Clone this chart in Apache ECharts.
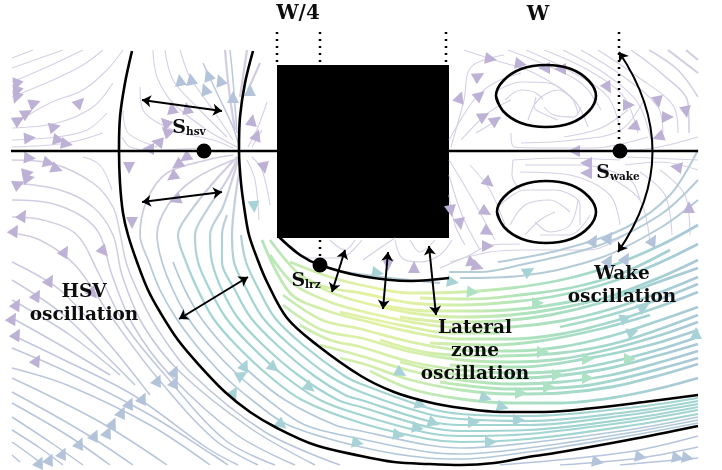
<!DOCTYPE html>
<html><head><meta charset="utf-8">
<style>html,body{margin:0;padding:0;background:#fff}#c{width:722px;height:470px}</style>
<script src="https://cdn.jsdelivr.net/npm/echarts@6/dist/echarts.min.js"></script>
</head><body><div id="c"></div>
<script>
// Thin purple streamlines: upper-left, HSV zone, wake, recirculation
const purpleLines = [
 [[12,58],[33,50]],[[12,68],[43,57],[63,50]],[[12,82],[47,67],[83,50]],[[12,97],[53,80],[83,65],[103,50]],
 [[17,122],[50,103],[83,90],[107,70],[123,50]],[[12,128],[57,123],[93,107],[113,83]],[[12,140],[57,137],[87,130],[107,113]],[[12,147],[67,143],[103,133]],
 [[83,157],[100,165],[112,190]],
 [[140,87],[143,110],[173,130],[213,140],[233,148]],[[153,50],[157,77],[173,103],[207,130],[237,147]],[[165,50],[173,80],[197,107],[227,137]],[[180,50],[190,77],[213,110],[233,140]],
 [[122,137],[130,147],[150,150],[200,148]],[[123,110],[128,133],[157,147]],
 [[267,102],[258,127],[248,147]],[[262,130],[252,147]],
 [[252,157],[262,170],[270,205]],[[247,160],[255,180],[259,220]],
 [[464,50],[494,60],[534,73],[574,100],[588,127]],[[508,50],[541,63],[581,83],[601,110]],[[526,50],[568,70],[608,97],[621,133]],[[544,50],[588,70],[624,97],[638,133]],[[563,50],[604,73],[638,103],[651,140]],[[581,50],[624,77],[658,107],[663,133]],[[598,50],[638,77],[674,107],[678,133]],
 [[511,133],[514,147],[548,148],[594,148],[648,137]],[[521,143],[574,140],[621,130],[644,100]],[[698,137],[654,148],[624,150]],[[564,137],[601,128],[628,110]],
 [[451,147],[464,100],[471,67],[504,55]],[[449,140],[474,100],[494,83],[521,73]],[[461,140],[488,113],[511,100]],[[476,133],[501,118]],
 [[498,90],[521,82],[548,83],[571,97],[578,113]],[[528,120],[538,100],[558,90],[574,100]],[[505,100],[521,90],[534,92],[543,99]],[[558,120],[546,115],[534,107],[536,97]],[[581,107],[574,117],[554,115],[544,107]],
 [[513,160],[512,175],[520,190]],[[513,160],[560,158],[620,160]],[[698,160],[628,157]],[[698,170],[660,162],[625,165]],[[525,165],[580,165],[630,180],[640,200]],
 [[520,172],[570,175],[610,195],[620,225]],[[640,172],[665,195],[672,235]],[[660,170],[685,195],[690,235]],[[605,175],[640,200],[650,245]],
 [[449,160],[470,195],[495,240]],[[449,175],[462,215],[480,250]],[[449,195],[455,225],[465,245]],[[470,165],[490,190],[505,225]],
 [[500,205],[525,190],[555,190],[580,205],[580,225]],[[510,225],[525,205],[550,200],[570,212]],[[525,235],[540,220],[555,212]],[[578,200],[570,225],[550,232],[535,222]],[[590,215],[570,235],[540,235]],
 [[290,245],[310,258],[340,258],[362,240]],[[330,240],[345,250],[355,240]],[[363,260],[380,248],[395,238]],[[395,240],[402,258],[420,262],[440,255],[452,240]],[[410,240],[420,252],[435,240]],
 [[440,268],[470,255],[490,245],[520,244]],[[450,262],[490,252],[525,250],[590,250],[625,235]]
];
// Streamlines outside the HSV boundary, fading from purple to blue-grey downwards
const outerLines = [
 [[12,160],[50,163],[93,183],[113,207],[120,233],[126,262],[137,290],[155,325],[190,372],[265,432],[340,465]],
 [[12,183],[60,190],[93,207],[113,235],[122,275],[143,325],[180,372],[250,428],[315,465]],
 [[12,200],[50,203],[83,217],[100,235],[112,275],[133,325],[170,375],[237,435],[295,465]],
 [[12,217],[43,220],[77,235],[98,272],[125,325],[165,375],[225,440],[275,465]],
 [[12,233],[40,240],[75,265],[110,315],[155,375],[215,440],[258,465]],
 [[12,262],[60,290],[110,345],[150,395]],[[12,280],[60,312],[100,350],[135,385]],[[12,300],[70,335],[120,375]],[[12,318],[60,345],[110,375]],
 [[12,335],[60,358],[133,395],[207,448],[238,465]],[[12,348],[67,372],[150,415],[213,455],[228,465]],[[12,368],[67,385],[150,425],[210,465]],[[12,378],[100,422],[167,465]],
 [[12,392],[83,432],[133,465]],[[12,403],[67,435],[110,465]],[[12,417],[50,442],[83,465]],[[12,430],[40,448],[63,465]],[[12,442],[33,457],[43,465]],[[12,455],[20,462]],
 [[500,465],[628,452],[698,436]],[[560,465],[640,458],[698,447]],[[620,465],[698,458]],
 [[631,50],[661,73],[688,103],[689,133]],[[649,50],[678,70],[698,97]]
];
// Streamlines between the HSV and inner boundaries, blue-grey side
const bandBlueLines = [
 [[233,155],[207,160],[167,173],[147,200],[140,235],[149,262],[160,290],[176,318],[196,345],[223,375],[252,400],[288,425],[361,447],[428,458],[461,459],[528,452],[628,436],[698,423]],
 [[233,160],[193,180],[168,205],[157,235],[162,262],[173,290],[188,318],[209,345],[238,375],[268,400],[305,425],[361,439],[428,452],[461,454],[528,448],[628,433],[698,420]],
 [[173,262],[185,290],[201,318],[223,345],[253,375],[285,400],[335,425],[361,431],[428,445],[461,448],[528,443],[628,430],[698,417]]
];
// Streamlines between the HSV and inner boundaries, teal side
const bandTealLines = [
 [[237,157],[213,183],[190,212],[178,235],[186,262],[198,290],[213,318],[236,345],[268,375],[302,400],[361,423],[428,439],[461,442],[528,439],[628,426],[698,414]],
 [[238,157],[227,180],[207,210],[195,235],[198,262],[210,290],[226,318],[250,345],[283,375],[320,400],[361,415],[428,433],[461,436],[528,434],[628,422],[698,410]],
 [[239,157],[233,177],[223,207],[210,235],[212,262],[222,290],[238,318],[263,345],[298,375],[338,400],[361,407],[428,427],[461,431],[528,430],[628,419],[698,407]],
 [[227,215],[222,235],[222,262],[235,290],[251,318],[277,345],[313,375],[345,395],[361,400],[428,421],[461,425],[528,425],[628,415],[698,404]],
 [[240,167],[235,200],[232,235],[234,262],[247,290],[263,318],[290,345],[328,375],[361,392],[428,414],[461,419],[528,421],[628,412],[698,401]],
 [[241,235],[246,262],[259,290],[275,318],[303,345],[343,375],[361,384],[428,408],[461,414],[528,416],[628,408],[698,398]],
 [[247,50],[240,97]],[[260,63],[248,90]],[[668,50],[698,73]],[[686,50],[698,60]],[[225,50],[229,90],[235,130]]
];
// Top of the HSV zone, blue-grey
const hsvTopLines = [[[203,63],[217,93],[233,127],[238,143]],[[230,50],[233,80],[237,133]]];
// Thick green streamlines of the lateral zone
const greenLines = [
 [[290,262],[330,277],[361,285],[411,293],[461,292],[511,288],[561,280],[611,266],[661,245],[698,225]],
 [[300,275],[325,287],[361,293],[411,303],[461,305],[511,302],[561,295],[611,282],[661,262],[698,244]],
 [[270,240],[300,275],[330,292],[361,302],[411,313],[461,317],[511,315],[561,308],[611,296],[661,277],[698,260]],
 [[270,255],[295,285],[330,302],[361,311],[411,322],[461,328],[511,327],[561,321],[611,309],[661,292],[698,277]],
 [[262,240],[290,293],[325,310],[361,320],[411,332],[461,339],[511,339],[561,334],[611,322],[661,306],[698,292]],
 [[283,295],[322,320],[361,329],[411,342],[461,350],[511,351],[561,347],[611,336],[661,320],[698,307]],
 [[283,305],[322,330],[361,338],[411,352],[461,360],[511,362],[561,359],[611,349],[661,335],[698,322]],
 [[300,325],[330,340],[361,347],[411,362],[461,370],[511,373],[561,371],[611,362],[661,349],[698,337]],
 [[320,345],[361,356],[411,371],[461,380],[511,384],[561,382],[611,375],[661,362],[698,351]],
 [[340,358],[364,364],[411,380],[461,390],[511,394],[561,393],[611,387],[661,375],[698,364]],
 [[370,371],[411,389],[461,399],[511,403],[561,403],[611,398],[661,388],[698,378]],
 [[420,298],[470,299],[520,295],[570,288],[620,274],[670,250]],[[380,305],[430,311],[480,311],[530,308],[580,300]],
 [[400,317],[450,322],[500,321],[550,315],[600,303],[650,285],[698,268]],[[340,312],[400,325],[450,333],[500,333]],
 [[560,327],[610,315],[660,299],[698,284]],[[430,343],[490,345],[540,341],[600,329],[650,315]],
 [[380,340],[430,353],[490,356],[560,353],[620,342],[698,315]],[[450,365],[520,367],[590,358],[650,345],[698,330]],
 [[400,362],[460,375],[520,378],[600,370],[660,355],[698,344]],[[440,382],[510,389],[590,385],[698,358]]
];
const upperRightLines = [
 [[449,272],[480,272],[520,265],[600,245],[660,215],[698,180]],[[498,262],[560,250],[625,228],[670,195],[698,150]],[[460,278],[520,276],[600,258],[660,228],[698,200]],
 [[345,272],[390,278],[440,283]]
];
// Boundaries and annotation geometry
const centreLineLeft = [[11,151],[277,151]];
const centreLineRight = [[449,151],[698,151]];
const hsvBoundary = [[132,51],[125,83],[120,117],[119,150],[120,183],[123,213],[128,235],[137,262],[148,290],[160,312],[178,340],[200,366],[225,392],[250,412],[277,428],[315,445],[361,456],[394,462],[428,464],[461,465],[494,463],[528,457],[561,452],[628,440],[698,426]];
const innerBoundary = [[253,51],[245,83],[240,117],[239,150],[241,183],[245,213],[249,235],[257,258],[267,282],[287,318],[317,345],[361,376],[394,392],[428,402],[461,408],[501,412],[544,412],[594,408],[644,402],[698,395]];
const lateralBoundary = [[278,236],[300,255],[320,265],[361,276],[411,281],[449,278]];
const upperVortex = [[496,96],[503,111],[521,123],[546,127],[571,123],[589,111],[596,96],[589,81],[571,69],[546,65],[521,69],[503,81],[496,96],[503,111]];
const lowerVortex = [[497,212],[504,227],[522,239],[546,243],[571,239],[589,227],[596,212],[589,197],[571,185],[546,181],[522,185],[504,197],[497,212],[504,227]];
const dottedGuides = [[[277,32],[277,62]],[[320,32],[320,62]],[[446,32],[446,62]],[[619,32],[619,145]],[[320,240],[320,258]]];
const bodyCorners = [[277,65],[449,238]];
const probes = [[204,151],[620,151],[320,265]];
const thickArrows = [[[142,100],[222,111]],[[142,202],[222,192]],[[345,250],[332,292]],[[248,277],[179,319]],[[388,252],[383,309]],[[429,246],[436,315]]];
const thinArrows = [[[281,30],[318,30]],[[449,30],[618,30]]];
const wakeArrow = [[619,52],[618,252]];
// Arrowheads on streamlines: [x, y, flow angle in degrees]
const purpleHeads = [[16,85,-110],[16,92,-110],[16,98,-110],[35,103,20],[27,113,30],[19,120,30],[55,127,15],[30,138,5],[59,140,-10],[67,144,-10],[80,102,45],
 [30,158,-5],[49,163,-15],[57,169,-20],[28,173,10],[29,178,10],[19,184,25],[23,215,60],[15,230,60],
 [157,142,170],[148,149,180],[129,168,-90],[132,223,-90],[185,158,215],[177,165,215],[172,177,215],[175,200,200],[165,122,135],[166,131,135],[172,108,100],[187,108,100],
 [252,120,80],[257,135,70],[264,168,-80],
 [491,59,-10],[521,64,-10],[544,68,180],[560,69,180],[608,88,-60],[479,76,30],[460,97,70],[480,95,40],[484,116,30],[496,120,35],[629,105,0],[658,102,-80],[668,117,0],[686,112,-80],[633,127,200],[658,137,200],[574,151,180],[586,163,180],[586,173,180],[676,167,170],[489,183,-40],[486,212,-30],[488,232,-30],[451,211,-80],[460,224,-80],[689,207,90],
 [65,251,60],[104,252,-50],[50,280,60],[37,295,60],[93,294,-50],[17,304,60],[13,318,60],[17,334,60],[37,360,60],
 [488,246,0],[473,263,-20],[478,267,-20],[414,267,90],[388,265,-90]];
const blueHeads = [[180,80,100],[191,79,100],[208,75,110],[220,80,110],[205,89,110],[233,97,90],[250,90,90],
 [40,462,65],[50,459,65],[63,453,65],[80,443,65],[95,435,65],[108,432,65],[113,423,65],[122,412,65],[130,403,65],[143,398,65],[158,380,65],[175,371,65],[175,382,65],
 [598,462,-10],[641,457,-10],[678,458,-10],[688,458,-10],[609,260,60],[626,258,60],[653,240,60],[594,240,60],[609,237,60]];
const tealHeads = [[254,207,-85],[245,365,65],[242,375,30],[274,368,-40],[310,388,-40],[234,392,60],[282,425,-40],[358,443,-10],[378,273,-10],[453,282,-10],[529,271,30],
 [486,398,-15],[503,407,-15],[421,405,-20],[434,423,-20],[474,422,0],[519,420,0],[418,428,-10],[399,435,-10],[491,442,0],[401,373,-30],
 [626,318,20],[633,332,20],[696,333,90],[644,307,30]];
const greenHeads = [[473,292,-5],[538,303,0],[543,352,0],[588,359,0],[630,359,0],[588,378,0],[549,387,0],[558,375,0],[521,393,0]];
// Text
const bigLabels = [["HSV\noscillation",84,304],["Wake\noscillation",622,286],["Lateral\nzone\noscillation",475,351]];
const widthLabels = [["W/4",298,14],["W",538,15]];
const probeLabels = [["S","hsv",189,128],["S","wake",618,173],["S","lrz",306,281]];

const curve = 0.34;
const fieldGradient = {type:'radial',x:385,y:300,r:315,global:true,colorStops:[
 {offset:0,color:'#e8f2a0'},{offset:.2,color:'#d5efaa'},{offset:.45,color:'#aee3bc'},{offset:.75,color:'#a2d6cf'},{offset:1,color:'#aac8d8'}]};
const purpleFade = c => ({type:'linear',x:0,y:170,x2:0,y2:280,global:true,colorStops:[{offset:0,color:'#d3cce3'},{offset:1,color:c}]});
const stream = (list,color,width) => list.map(p=>({type:'line',data:p,smooth:curve,symbol:'none',silent:true,z:2,lineStyle:{color,width}}));
const heads = (list,color) => ({type:'scatter',z:3,silent:true,symbol:'triangle',symbolSize:[12,12],itemStyle:{color,opacity:1},
 data:list.map(h=>({value:[h[0],h[1]],symbolRotate:h[2]-90}))});
const bold = (p,w,extra) => Object.assign({type:'line',data:p,smooth:curve,symbol:'none',silent:true,z:6,clip:false,lineStyle:{color:'#000',width:w}},extra||{});
const arrows = (list,w,size,bend) => ({type:'lines',coordinateSystem:'cartesian2d',polyline:false,silent:true,z:8,symbol:['arrow','arrow'],symbolSize:size,
 lineStyle:{color:'#000',width:w,opacity:1,curveness:bend||0},data:list.map(a=>({coords:a}))});
const serif = 'DejaVu Serif';
const textSeries = (list,size,lh) => ({type:'scatter',z:10,silent:true,symbolSize:0,clip:false,itemStyle:{opacity:1},data:list.map(l=>({name:l[0],value:[l[1],l[2]]})),
   label:{show:true,position:'inside',formatter:p=>p.name,fontFamily:serif,fontWeight:'bold',fontSize:size,lineHeight:lh,color:'#0d0d0d',align:'center',verticalAlign:'middle'}});
const option = {animation:false,backgroundColor:'#fff',
 grid:{left:11,top:50,width:687,height:415,show:false},
 xAxis:{type:'value',min:11,max:698,show:false},
 yAxis:{type:'value',min:50,max:465,inverse:true,show:false},
 series:[
  ...stream(purpleLines,'#d6cfe5',1.1),
  ...stream(outerLines,{type:'linear',x:0,y:230,x2:0,y2:420,global:true,colorStops:[{offset:0,color:'#d3cce3'},{offset:1,color:'#b6c4dc'}]},1.5),
  ...stream(bandBlueLines,purpleFade('#b2c8da'),1.7),
  ...stream(bandTealLines,purpleFade('#a2d4d2'),2.2),
  ...stream(hsvTopLines,'#bcc8de',1.5),
  ...stream(greenLines,fieldGradient,2.8),
  ...stream(upperRightLines,'#b4ccd8',2),
  heads(purpleHeads,'#bdb2d5'),heads(blueHeads,'#b3c3da'),heads(tealHeads,'#a8d3d6'),heads(greenHeads,'#aee2c4'),
  bold(centreLineLeft,2.5,{smooth:false}),bold(centreLineRight,2.5,{smooth:false}),
  bold(hsvBoundary,2.6),bold(innerBoundary,2.6),bold(lateralBoundary,2.6),bold(upperVortex,2.6),bold(lowerVortex,2.6),
  ...dottedGuides.map(d=>bold(d,2.5,{smooth:false,lineStyle:{color:'#000',width:2.5,type:[2,5]}})),
  {type:'line',data:[],z:5,silent:true,markArea:{silent:true,itemStyle:{color:'#000',opacity:1},
    data:[[{coord:bodyCorners[0]},{coord:bodyCorners[1]}]]}},
  {type:'scatter',z:9,silent:true,symbolSize:15,itemStyle:{color:'#000',opacity:1},data:probes},
  arrows(thickArrows,2,9),arrows(thinArrows,1.4,7),arrows([wakeArrow],2,9,.34),
  textSeries(bigLabels,18.5,23),textSeries(widthLabels,20,24),
  {type:'scatter',z:10,silent:true,symbolSize:0,clip:false,itemStyle:{opacity:1},data:probeLabels.map(l=>({name:l[0]+'|'+l[1],value:[l[2],l[3]]})),
   label:{show:true,position:'inside',align:'center',verticalAlign:'middle',
    formatter:p=>{const s=p.name.split('|');return '{a|'+s[0]+'}{b|'+s[1]+'}';},
    rich:{a:{fontFamily:serif,fontWeight:'bold',fontSize:19,color:'#0d0d0d'},b:{fontFamily:serif,fontWeight:'bold',fontSize:10.5,color:'#0d0d0d',padding:[9,0,0,0]}}}}
 ]};
echarts.init(document.getElementById('c'),null,{renderer:'canvas'}).setOption(option);
</script></body></html>
